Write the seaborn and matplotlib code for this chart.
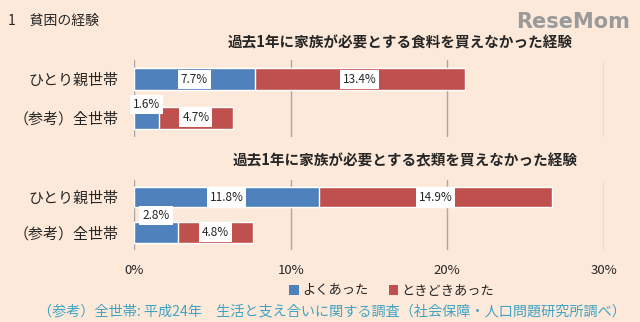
import matplotlib
matplotlib.use("Agg")
import matplotlib.pyplot as plt
import seaborn as sns
import pandas as pd
from matplotlib.patches import Patch

sns.set_theme(style="white")
plt.rcParams['font.family'] = ['Noto Sans CJK JP', 'DejaVu Sans']

categories = ['ひとり親世帯', '（参考）全世帯']
food_often = [7.7, 1.6]
food_sometimes = [13.4, 4.7]
clothes_often = [11.8, 2.8]
clothes_sometimes = [14.9, 4.8]
xticks = [0, 10, 20, 30]
xtick_labels = ['0%', '10%', '20%', '30%']
series_names = ['よくあった', 'ときどきあった']
titles = ['過去1年に家族が必要とする食料を買えなかった経験',
          '過去1年に家族が必要とする衣類を買えなかった経験']

BG = '#fde9d9'
BLUE = '#4f81bd'
RED = '#c0504d'
GRID = '#a6a6a6'
TXT = '#262626'

W, H = 640, 322
fig = plt.figure(figsize=(6.4, 3.22), dpi=100)
fig.patch.set_facecolor(BG)

def px_axes(x0, y0, x1, y1):
    return fig.add_axes([x0 / W, 1 - y1 / H, (x1 - x0) / W, (y1 - y0) / H])

ax1 = px_axes(134, 60, 604, 137)
ax2 = px_axes(134, 180, 604, 250)

def draw(ax, often, sometimes, ylim, bar_w, small_off):
    totals = [a + b for a, b in zip(often, sometimes)]
    df = pd.DataFrame({'cat': categories, 'often': often, 'total': totals})
    sns.barplot(data=df, x='total', y='cat', color=RED, ax=ax, width=bar_w,
                saturation=1, orient='h')
    sns.barplot(data=df, x='often', y='cat', color=BLUE, ax=ax, width=bar_w,
                saturation=1, orient='h')
    ax.set_facecolor(BG)
    ax.set_xlim(0, 30)
    ax.set_ylim(*ylim)
    ax.set_xlabel('')
    ax.set_ylabel('')
    for s in ax.spines.values():
        s.set_visible(False)
    ax.set_xticks(xticks)
    ax.xaxis.grid(True, color=GRID, linewidth=1)
    ax.set_axisbelow(True)
    ax.tick_params(axis='y', length=0, pad=11, labelsize=10.8, labelcolor=TXT)
    bbox = dict(boxstyle='square,pad=0.25', fc='white', ec='none')
    for i, (a, b) in enumerate(zip(often, sometimes)):
        dy = small_off if a < 3 else 0
        ax.annotate(f'{a:.1f}%', (a / 2, i), xytext=(0, dy), textcoords='offset points',
                    ha='center', va='center', fontsize=8.5, color=TXT, bbox=bbox)
        ax.annotate(f'{b:.1f}%', (a + b / 2, i), xytext=(0, 0), textcoords='offset points',
                    ha='center', va='center', fontsize=8.5, color=TXT, bbox=bbox)

draw(ax1, food_often, food_sometimes, (1.49, -0.49), 0.56, 10)
draw(ax2, clothes_often, clothes_sometimes, (1.49, -0.48), 0.57, 12)

ax1.tick_params(axis='x', length=0, labelbottom=False)
ax2.set_xticklabels(xtick_labels)
ax2.tick_params(axis='x', length=0, pad=10, labelsize=9.5, labelcolor=TXT)

fig.text(400 / W, 1 - 42 / H, titles[0], ha='center', va='center', fontsize=10.5,
         fontweight='bold', color=TXT)
fig.text(405 / W, 1 - 160 / H, titles[1], ha='center', va='center', fontsize=10.5,
         fontweight='bold', color=TXT)
fig.text(8 / W, 1 - 21 / H, '1\u3000貧困の経験', ha='left', va='center', fontsize=10,
         color=TXT)
fig.text(630 / W, 1 - 22 / H, 'ReseMom', ha='right', va='center', fontsize=15,
         fontweight='bold', color='#9a9a9a', family=['DejaVu Sans'])

handles = [Patch(facecolor=BLUE, edgecolor='none'), Patch(facecolor=RED, edgecolor='none')]
fig.legend(handles, series_names, loc='center', bbox_to_anchor=(392 / W, 1 - 291 / H),
           ncol=2, frameon=False, fontsize=9.5, handlelength=0.7, handleheight=0.7,
           handletextpad=0.3, columnspacing=1.5, labelcolor=TXT)

fig.text(38 / W, 1 - 311 / H,
         '（参考）全世帯: 平成24年\u3000生活と支え合いに関する調査（社会保障・人口問題研究所調べ）',
         ha='left', va='center', fontsize=10.2, color='#3fa3c4')

fig.savefig('out.png', dpi=100, facecolor=BG)
